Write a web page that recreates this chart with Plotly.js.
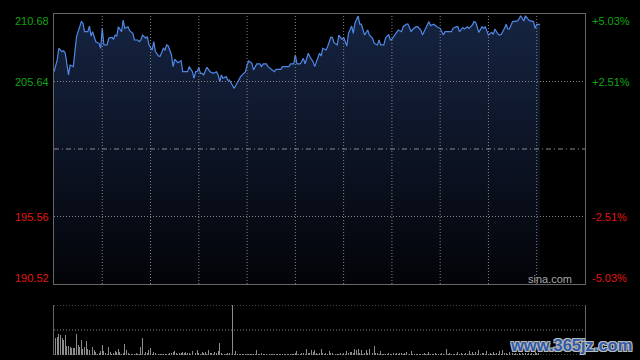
<!DOCTYPE html>
<html>
<head>
<meta charset="utf-8">
<script src="https://cdn.plot.ly/plotly-3.0.1.min.js"></script>
<style>html,body{margin:0;padding:0;background:#000;}#chart{width:640px;height:360px;}</style>
</head>
<body>
<div id="chart"></div>
<script>
// Minutes since open (each grid column = 30 min, 11 columns)
const priceMinutes = [0,2,3,5,6,7,9,10,12,14,15,17,18,19,21,22,23,24,26,28,29,30,31,33,34,36,37,38,39,40,42,43,44,46,47,48,49,50,52,53,54,55,57,58,59,61,62,63,65,66,68,69,70,71,73,74,75,77,78,79,80,82,83,84,86,87,88,89,90,91,92,93,95,97,98,99,101,102,103,104,105,107,108,109,112,114,116,117,119,120,121,123,124,126,128,129,130,132,133,135,137,138,141,142,146,147,149,150,151,153,155,156,158,159,161,162,163,165,166,167,169,170,172,173,174,176,177,179,180,182,183,185,186,187,189,190,191,193,195,196,198,199,201,202,203,205,206,208,209,210,212,214,216,217,219,220,222,223,225,226,228,229,231,233,234,236,238,239,240,242,243,247,248,250,251,252,254,255,257,258,260,261,262,263,264,266,267,268,269,270,272,273,274,276,277,278,280,281,282,283,285,288,289,290,292,293,295,296,298,299,300,302];
const prices = [206.37,207.25,208.12,207.87,207.94,207.75,206.13,206.87,206.75,208.99,209.36,210.11,209.99,209.36,209.36,209.78,209.04,209.36,208.61,208.49,208.12,209.61,208.37,208.37,208.87,208.94,208.79,209.11,209.04,209.73,209.36,210.23,209.61,209.73,209.43,209.36,209.24,208.74,208.74,208.61,208.74,209.11,208.87,208.99,208.37,207.99,208.61,207.87,207.54,207.54,208.12,207.99,208.37,208.29,207.62,206.75,207.30,207.04,207.12,207.19,206.37,206.37,206.37,206.75,206.37,205.88,206.37,206.37,206.70,206.25,206.25,206.13,206.70,206.37,206.30,206.25,206.37,206.13,205.62,206.13,205.88,206.00,205.75,205.75,205.13,205.62,206.00,206.13,206.37,206.87,207.17,207.00,206.50,206.95,206.95,206.75,206.95,206.95,206.75,206.55,206.37,206.55,206.55,206.75,206.75,206.95,206.95,207.62,206.95,206.95,207.37,206.95,207.75,207.49,207.12,206.75,207.12,207.75,207.54,208.12,207.99,208.24,208.94,208.94,208.54,208.37,209.11,208.79,208.94,208.29,209.24,209.78,209.24,209.99,210.53,209.93,209.93,209.11,209.48,209.11,208.87,208.49,208.37,208.74,208.37,208.37,208.87,209.16,208.74,208.79,209.16,209.48,209.36,209.73,209.93,209.93,209.36,209.54,209.73,209.73,209.48,209.11,209.61,210.11,209.81,209.91,209.73,209.66,209.61,209.11,209.36,209.36,209.61,209.73,209.73,209.36,209.66,209.56,209.73,209.61,209.86,210.11,210.06,209.73,209.31,209.73,209.61,209.73,209.48,209.11,209.31,209.16,209.56,209.16,209.11,209.16,209.61,209.91,209.56,209.56,210.11,210.16,210.31,210.55,210.16,210.55,210.23,210.16,210.11,209.61,209.91,209.91];

// Volume per minute, minutes 0..301 (minute 111 is a large block, beyond the pane)
const volumes = [18,17,18,21,20,17,15,20,9,9,
8,7,7,7,21,10,8,15,6,8,
14,6,5,2,8,5,3,1,2,4,
10,4,2,1,8,3,1,2,4,3,
6,3,1,2,11,5,2,1,1,1,
1,2,1,1,8,17,1,3,2,5,
7,1,3,2,4,1,1,1,1,1,
1,1,2,2,3,4,2,1,2,2,
3,2,3,2,2,1,4,2,2,5,
2,1,3,2,3,1,5,2,2,1,
3,2,4,12,2,1,1,1,2,2,
1,300,1,4,1,1,1,1,1,1,
1,1,1,1,1,1,5,1,1,2,
1,1,1,1,1,1,1,1,1,1,
1,1,1,1,1,1,1,1,1,1,
2,4,1,1,2,2,1,6,2,2,
5,3,5,2,1,2,6,2,1,2,
1,4,2,2,1,1,1,1,2,1,
2,1,4,2,3,3,2,6,5,6,
2,5,1,2,5,2,6,7,2,9,
2,2,1,4,1,1,1,1,2,1,
1,2,1,2,1,2,2,1,2,3,
2,1,4,1,1,1,1,1,1,1,
2,1,1,3,1,1,1,2,1,1,
1,2,1,2,6,1,2,1,1,1,
1,3,1,2,1,1,2,1,4,1,
3,1,3,1,5,1,2,2,1,4,
1,2,1,3,1,2,1,4,1,5,
2,2,1,3,1,2,1,2,1,2,
1,2,1,2,1,2,1,2,1,3,
2,2];
const volumeMinutes = volumes.map((v, i) => i);

const prevClose = 200.60;
const yMin = 190.52, yMax = 210.68;
const leftLabels = ['210.68', '205.64', '195.56', '190.52'];
const leftValues = [210.68, 205.64, 195.56, 190.52];
const rightLabels = ['+5.03%', '+2.51%', '-2.51%', '-5.03%'];
const gridMinutes = [30,60,90,120,150,180,210,240,270,300];
const gridPrices = [195.56, 205.64];
const volumeGrid = [0, 25, 50];

const GREEN = '#12a312', RED = '#e01515';
const labelShift = [-7, 0, 0, 6];
const gridCol = '#858585';
const DOT = '1px,2px';

const annotations = [];
leftValues.forEach((v, i) => {
  const col = v > prevClose ? GREEN : RED;
  annotations.push({xref:'paper', yref:'y', x:0, y:v, xanchor:'right', yanchor:'middle', xshift:-3, yshift:labelShift[i],
    text:leftLabels[i], showarrow:false, font:{family:'Liberation Sans, Arial', size:11, color:col}});
  annotations.push({xref:'paper', yref:'y', x:1, y:v, xanchor:'left', yanchor:'middle', xshift:5, yshift:labelShift[i],
    text:rightLabels[i], showarrow:false, font:{family:'Liberation Sans, Arial', size:11, color:col}});
});
annotations.push({xref:'x domain', yref:'y domain', x:0.979, y:0.018, xanchor:'right', yanchor:'middle',
  text:'sina.com', showarrow:false, font:{family:'Liberation Sans, Arial', size:11, color:'#a8a8a8'}});
annotations.push({xref:'paper', yref:'paper', x:1.092, y:0.03, xanchor:'right', yanchor:'middle',
  text:'<b>www.365jz.com</b>', showarrow:false,
  font:{family:'Liberation Sans, Arial', size:16.5, color:'#2f5aa8', shadow:'1px 1px 0 #bbb, -1px -1px 0 #bbb, 1px -1px 0 #bbb, -1px 1px 0 #bbb'}});

const shapes = [];
gridMinutes.forEach(m => shapes.push({type:'line', xref:'x', yref:'y domain', x0:m, x1:m, y0:0, y1:1,
  layer:'above', line:{color:gridCol, width:1, dash:DOT}}));
gridPrices.forEach(p => shapes.push({type:'line', xref:'x domain', yref:'y', x0:0, x1:1, y0:p, y1:p,
  layer:'above', line:{color:gridCol, width:1, dash:DOT}}));
shapes.push({type:'line', xref:'x domain', yref:'y', x0:0, x1:1, y0:prevClose, y1:prevClose,
  layer:'above', line:{color:'#8a8a8a', width:1, dash:'5px,3px,1px,3px'}});
volumeGrid.forEach(v => shapes.push({type:'line', xref:'x2 domain', yref:'y2', x0:0, x1:1, y0:v, y1:v,
  layer:'below', line:{color:gridCol, width:1, dash:DOT}}));

const traces = [
  {x: priceMinutes, y: prices, type:'scatter', mode:'lines', xaxis:'x', yaxis:'y',
   line:{color:'#4f88e6', width:1.2}, fill:'tozeroy',
   fillgradient:{type:'vertical', start:yMin, stop:yMax, colorscale:[[0,'rgb(3,4,8)'],[1,'rgb(22,36,66)']]},
   hoverinfo:'skip'},
  {x: volumeMinutes, y: volumes, type:'bar', xaxis:'x2', yaxis:'y2', width:0.6,
   marker:{color:'#8c8c8c', line:{width:0}}, hoverinfo:'skip'}
];

const layout = {
  width:640, height:360,
  margin:{l:54, r:55, t:14, b:5},
  paper_bgcolor:'#000', plot_bgcolor:'#000',
  showlegend:false,
  bargap:0,
  xaxis:{domain:[0,1], range:[0,330], showticklabels:false, ticks:'', showgrid:false, zeroline:false,
    showline:true, mirror:true, linecolor:'#666', linewidth:1, layer:'above traces'},
  yaxis:{domain:[0.2082,1], range:[yMin,yMax], showticklabels:false, ticks:'', showgrid:false, zeroline:false,
    showline:true, mirror:true, linecolor:'#666', linewidth:1, layer:'above traces'},
  xaxis2:{domain:[0,1], anchor:'y2', range:[0,330], showticklabels:false, ticks:'', showgrid:false, zeroline:false, showline:false},
  yaxis2:{domain:[0,0.1466], anchor:'x2', range:[0,50], showticklabels:false, ticks:'', showgrid:false, zeroline:false,
    showline:true, mirror:true, linecolor:'#666', linewidth:1},
  shapes: shapes,
  annotations: annotations
};

Plotly.newPlot('chart', traces, layout, {displayModeBar:false, staticPlot:true});
</script>
</body>
</html>
